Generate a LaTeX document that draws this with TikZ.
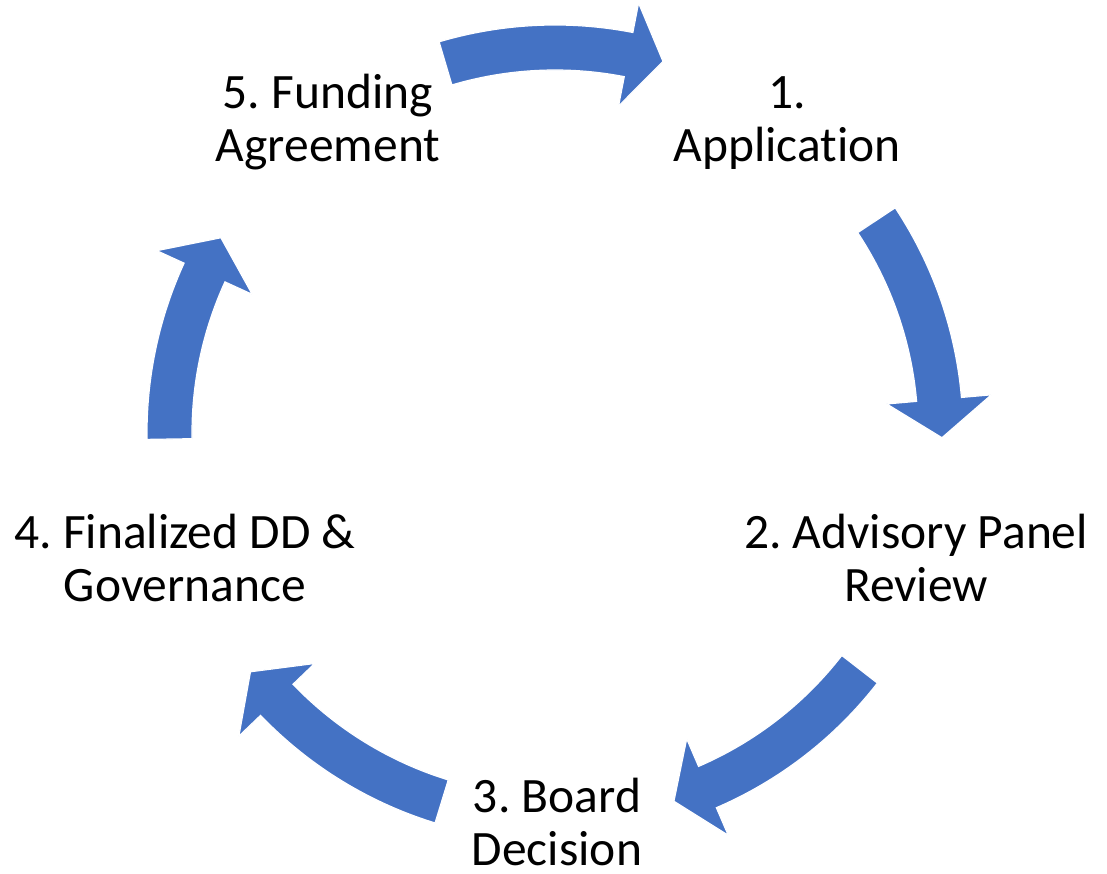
\documentclass[tikz,border=0pt]{standalone}
\usepackage{fontspec}
\setmainfont{Carlito}[Ligatures=NoCommon]
\definecolor{cycleblue}{HTML}{4472C4}
\frenchspacing

\begin{document}
\begin{tikzpicture}
    [x=1pt, y=1pt,
     stage/.style={align=center, inner sep=0pt, font=\fontsize{49.5}{53}\selectfont},
     band/.style={fill=cycleblue, draw=white, line width=1.2pt, line join=miter}]
    \useasboundingbox[fill=white] (0,0) rectangle (1107,873);
    \coordinate (O) at (555,440);

    \node[stage] (A) at (787,749) {\strut 1.\\\strut Application};
    \node[stage] (P) at (916,309) {\strut 2. Advisory Panel\\\strut Review};
    \node[stage] (B) at (557,52) {\strut 3. Board\\Decision};
    \node[stage] (G) at (185,309) {\strut 4. Finalized DD \&\\\strut Governance};
    \node[stage] (F) at (328,749) {\strut 5. Funding\\\strut Agreement};

    \begin{scope}[shift={(O)}]
    % 5 -> 1
    \filldraw[band] (106.5:408pt) arc[start angle=106.5, end angle=79, radius=408pt]
        -- (79:438pt) -- (73.8:387pt) -- (79:333pt) -- (79:363pt)
        arc[start angle=79, end angle=106.5, radius=363pt] -- cycle;
    % 1 -> 2
    \filldraw[band] (33.5:408pt) arc[start angle=33.5, end angle=5, radius=408pt]
        -- (5:438pt) -- (-0.7:387pt) -- (5:333pt) -- (5:363pt)
        arc[start angle=5, end angle=33.5, radius=363pt] -- cycle;
    % 2 -> 3
    \filldraw[band] (-37.8:408pt) arc[start angle=-37.8, end angle=-66.7, radius=408pt]
        -- (-66.7:438pt) -- (-72.1:387pt) -- (-66.7:333pt) -- (-66.7:363pt)
        arc[start angle=-66.7, end angle=-37.8, radius=363pt] -- cycle;
    % 3 -> 4
    \filldraw[band] (-107.1:408pt) arc[start angle=-107.1, end angle=-136.2, radius=408pt]
        -- (-136.2:438pt) -- (-141.9:387pt) -- (-136.2:333pt) -- (-136.2:363pt)
        arc[start angle=-136.2, end angle=-107.1, radius=363pt] -- cycle;
    % 4 -> 5
    \filldraw[band] (180.9:408pt) arc[start angle=180.9, end angle=155.4, radius=408pt]
        -- (155.4:438pt) -- (149.7:387pt) -- (155.4:333pt) -- (155.4:363pt)
        arc[start angle=155.4, end angle=180.9, radius=363pt] -- cycle;
    \end{scope}

\end{tikzpicture}
\end{document}
